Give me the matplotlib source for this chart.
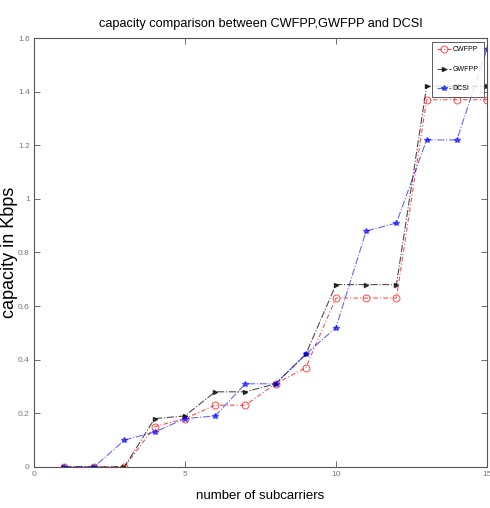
import numpy as np
import matplotlib.pyplot as plt

# number of subcarriers and capacity (Kbps) for each scheme
subcarriers = np.arange(1, 16)
cwfpp = [0, 0, 0, 0.15, 0.18, 0.23, 0.23, 0.31, 0.37, 0.63, 0.63, 0.63, 1.37, 1.37, 1.37]
gwfpp = [0, 0, 0, 0.18, 0.19, 0.28, 0.28, 0.31, 0.42, 0.68, 0.68, 0.68, 1.42, 1.42, 1.42]
dcsi = [0, 0, 0.10, 0.13, 0.18, 0.19, 0.31, 0.31, 0.42, 0.52, 0.88, 0.91, 1.22, 1.22, 1.56]

plt.rcParams['font.family'] = ['Liberation Sans', 'DejaVu Sans']

fig = plt.figure(figsize=(4.9, 5.08), dpi=100)
ax = fig.add_axes([0.069, 0.081, 0.925, 0.844])

ax.plot(subcarriers, cwfpp, color='red', linestyle='--', dashes=(4, 2, 1, 2), marker='o',
        markersize=5, markerfacecolor='none', markeredgewidth=0.7, linewidth=0.8, alpha=0.7, label='CWFPP')
ax.plot(subcarriers, gwfpp, color='black', linestyle='-.', marker='>', markersize=3,
        linewidth=0.8, alpha=0.7, label='GWFPP')
ax.plot(subcarriers, dcsi, color='blue', linestyle='-.', marker='*', markersize=4,
        linewidth=0.8, alpha=0.6, label='DCSI')

ax.set_xlim(0, 15)
ax.set_ylim(0, 1.6)
ax.set_xticks([0, 5, 10, 15])
ax.set_yticks(np.arange(0, 1.61, 0.2))
ax.set_xticklabels(['0', '5', '10', '15'])
ax.set_yticklabels(['0', '0.2', '0.4', '0.6', '0.8', '1', '1.2', '1.4', '1.6'])
ax.tick_params(direction='in', top=True, right=True, labelsize=6, length=4, pad=3,
               width=0.6, colors='#555555', labelcolor='#777777')
for s in ax.spines.values():
    s.set_color('#555555')
    s.set_linewidth(0.8)

ax.set_title('capacity comparison between CWFPP,GWFPP and DCSI', fontsize=9.2, pad=8)
ax.set_xlabel('number of subcarriers', fontsize=9.5)
ax.xaxis.set_label_coords(0.5, -0.055)
ax.set_ylabel('capacity in Kbps', fontsize=13)
ax.yaxis.set_label_coords(-0.034, 0.5)

leg = ax.legend(loc='upper right', fontsize=5, frameon=True, fancybox=False,
                borderpad=0.7, handlelength=2.0, labelspacing=1.8, borderaxespad=0.5,
                handletextpad=0.3)
leg.get_frame().set_edgecolor('#333333')
leg.get_frame().set_linewidth(0.7)

fig.savefig('out.png', dpi=100)
